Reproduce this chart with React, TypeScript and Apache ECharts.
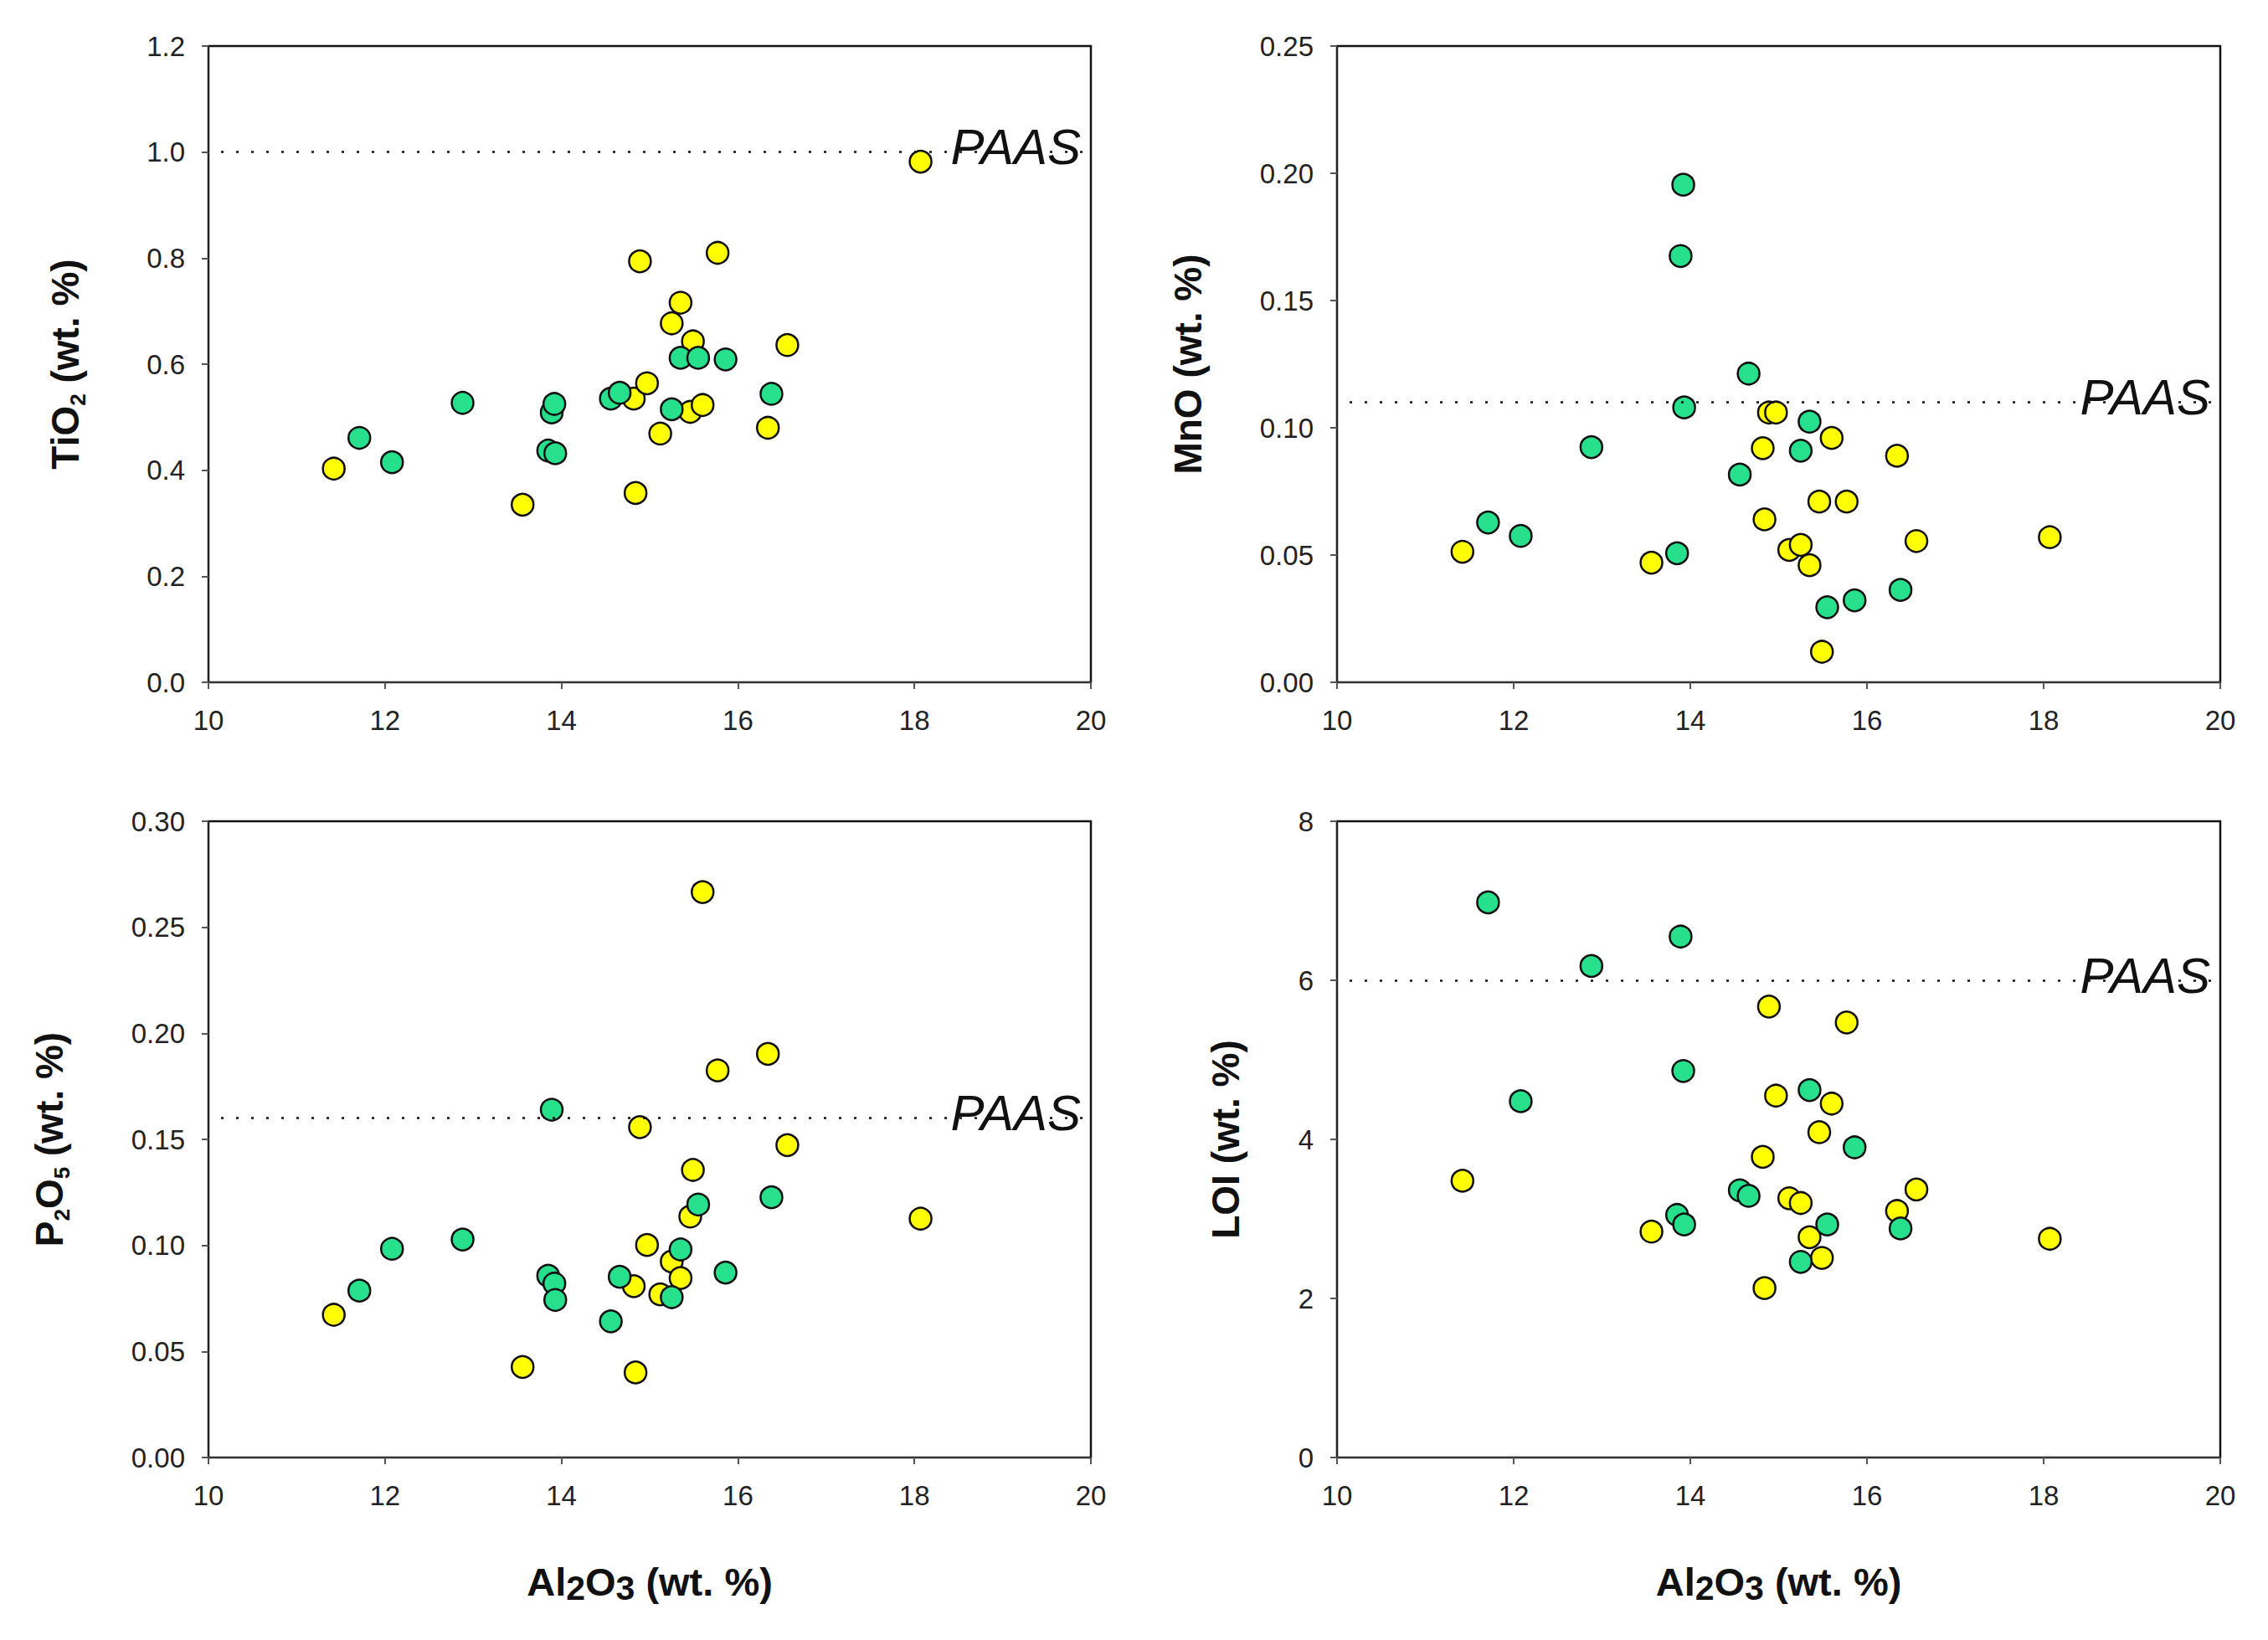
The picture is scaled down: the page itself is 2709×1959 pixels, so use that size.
import React, { useEffect, useRef } from "react";
import * as echarts from "echarts";

// Al2O3 (wt. %) for the two sample groups
const alGreen = [11.71, 12.08, 12.88, 13.85, 13.89, 13.92, 13.93, 14.56, 14.66, 15.25, 15.35, 15.55, 15.86, 16.38];
const alYellow = [11.42, 13.56, 14.82, 14.84, 14.89, 14.97, 15.12, 15.25, 15.35, 15.46, 15.49, 15.6, 15.77, 16.34, 16.56, 18.07];

// TiO2
const tio2Green = [0.461, 0.415, 0.527, 0.437, 0.509, 0.525, 0.432, 0.535, 0.546, 0.515, 0.612, 0.612, 0.609, 0.544];
const tio2Yellow = [0.403, 0.335, 0.535, 0.357, 0.794, 0.564, 0.469, 0.677, 0.716, 0.51, 0.643, 0.523, 0.81, 0.48, 0.636, 0.982];

// MnO
const mnoGreen = [0.0628, 0.0575, 0.0924, 0.0507, 0.1675, 0.1955, 0.108, 0.0816, 0.1213, 0.091, 0.1024, 0.0295, 0.0322, 0.0363];
const mnoYellow = [0.0513, 0.047, 0.092, 0.064, 0.106, 0.106, 0.052, 0.054, 0.046, 0.071, 0.012, 0.096, 0.071, 0.089, 0.0555, 0.057];

// P2O5
const p2o5Green = [0.0787, 0.0984, 0.1028, 0.0857, 0.164, 0.082, 0.0743, 0.0642, 0.0852, 0.0756, 0.0981, 0.1193, 0.0872, 0.1227];
const p2o5Yellow = [0.0673, 0.0427, 0.0808, 0.0401, 0.1558, 0.1002, 0.0769, 0.0924, 0.0846, 0.1136, 0.1356, 0.2666, 0.1825, 0.1903, 0.1473, 0.1126];

// LOI
const loiGreen = [6.98, 4.48, 6.18, 3.05, 6.55, 4.86, 2.93, 3.36, 3.29, 2.46, 4.62, 2.93, 3.9, 2.88];
const loiYellow = [3.48, 2.84, 3.78, 2.13, 5.67, 4.55, 3.26, 3.2, 2.77, 4.09, 2.51, 4.45, 5.47, 3.1, 3.37, 2.75];

// PAAS reference values
const paasValues = [1.0, 0.11, 0.16, 6];

// axis ranges / ticks
const xRange = { min: 10, max: 20, interval: 2 };
const yRanges = [
  { min: 0, max: 1.2, interval: 0.2, decimals: 1 },
  { min: 0, max: 0.25, interval: 0.05, decimals: 2 },
  { min: 0, max: 0.3, interval: 0.05, decimals: 2 },
  { min: 0, max: 8, interval: 2, decimals: 0 },
];

const yTitles = [
  "{m|TiO}{s|2}{m| (wt. %)}",
  "{m|MnO (wt. %)}",
  "{m|P}{s|2}{m|O}{s|5}{m| (wt. %)}",
  "{m|LOI (wt. %)}",
];
const xTitle = "{m|Al}{b|2}{m|O}{b|3}{m| (wt. %)}";

const greenSets = [tio2Green, mnoGreen, p2o5Green, loiGreen];
const yellowSets = [tio2Yellow, mnoYellow, p2o5Yellow, loiYellow];

const GREEN = "#27e08c";
const YELLOW = "#ffff00";
const FONT = "Liberation Sans, Arial, sans-serif";

const layout = [
  { left: 249, top: 55, width: 1054, height: 760, nameGap: 143, showX: false },
  { left: 1597, top: 55, width: 1055, height: 760, nameGap: 150, showX: false },
  { left: 249, top: 981, width: 1054, height: 760, nameGap: 162, showX: true },
  { left: 1597, top: 981, width: 1055, height: 760, nameGap: 105, showX: true },
];

export default function App() {
  const ref = useRef<HTMLDivElement>(null);

  useEffect(() => {
    if (!ref.current) return;
    const chart = echarts.init(ref.current, undefined, { renderer: "svg" });

    const grids = layout.map((l) => ({
      left: l.left,
      top: l.top,
      width: l.width,
      height: l.height,
      show: true,
      borderColor: "#111",
      borderWidth: 2.5,
      backgroundColor: "transparent",
    }));

    const xAxes = layout.map((l, i) => ({
      type: "value",
      gridIndex: i,
      min: xRange.min,
      max: xRange.max,
      interval: xRange.interval,
      axisLine: { show: true, onZero: false, lineStyle: { color: "#333", width: 2 } },
      axisTick: { show: true, inside: false, length: 8, lineStyle: { color: "#555", width: 2 } },
      axisLabel: { fontFamily: FONT, fontSize: 33, color: "#222", margin: 29 },
      splitLine: { show: false },
      name: l.showX ? xTitle : "",
      nameLocation: "middle",
      nameGap: 120,
      nameTextStyle: {
        fontFamily: FONT,
        fontWeight: "bold",
        fontSize: 47,
        color: "#111",
        rich: {
          m: { fontFamily: FONT, fontWeight: "bold", fontSize: 47, lineHeight: 56, color: "#111" },
          b: { fontFamily: FONT, fontWeight: "bold", fontSize: 41, lineHeight: 32, verticalAlign: "bottom", color: "#111" },
        },
      },
    }));

    const yAxes = layout.map((l, i) => ({
      type: "value",
      gridIndex: i,
      min: yRanges[i].min,
      max: yRanges[i].max,
      interval: yRanges[i].interval,
      axisLine: { show: true, onZero: false, lineStyle: { color: "#222", width: 2 } },
      axisTick: { show: true, inside: false, length: 8, lineStyle: { color: "#555", width: 2 } },
      axisLabel: {
        fontFamily: FONT,
        fontSize: 33,
        color: "#222",
        margin: 28,
        formatter: (v: number) => v.toFixed(yRanges[i].decimals),
      },
      splitLine: { show: false },
      name: yTitles[i],
      nameLocation: "middle",
      nameGap: l.nameGap,
      nameTextStyle: {
        fontFamily: FONT,
        fontWeight: "bold",
        fontSize: 46,
        color: "#111",
        rich: {
          m: { fontFamily: FONT, fontWeight: "bold", fontSize: 46, lineHeight: 56, color: "#111" },
          s: { fontFamily: FONT, fontWeight: "bold", fontSize: 26, lineHeight: 32, verticalAlign: "bottom", color: "#111" },
        },
      },
    }));

    const series: any[] = [];
    layout.forEach((_, i) => {
      series.push({
        type: "scatter",
        name: "yellow" + i,
        xAxisIndex: i,
        yAxisIndex: i,
        symbol: "circle",
        symbolSize: 26,
        itemStyle: { color: YELLOW, borderColor: "#111", borderWidth: 2.5, opacity: 1 },
        data: alYellow.map((x, j) => [x, yellowSets[i][j]]),
        z: 3,
        markLine: {
          silent: true,
          symbol: ["none", "none"],
          animation: false,
          data: [{ yAxis: paasValues[i] }],
          lineStyle: { type: [3, 15], dashOffset: 3, color: "#111", width: 2.5 },
          label: {
            show: true,
            position: "insideEndTop",
            formatter: "PAAS",
            fontFamily: FONT,
            fontStyle: "italic",
            fontSize: 60,
            lineHeight: 60,
            color: "#111",
            distance: [12, -24],
          },
          emphasis: { disabled: true },
        },
      });
      series.push({
        type: "scatter",
        name: "green" + i,
        xAxisIndex: i,
        yAxisIndex: i,
        symbol: "circle",
        symbolSize: 26,
        itemStyle: { color: GREEN, borderColor: "#111", borderWidth: 2.5, opacity: 1 },
        data: alGreen.map((x, j) => [x, greenSets[i][j]]),
        z: 3,
      });
    });

    chart.setOption({
      animation: false,
      backgroundColor: "#fff",
      grid: grids,
      xAxis: xAxes,
      yAxis: yAxes,
      series,
    });

    return () => chart.dispose();
  }, []);

  return (
    <div
      ref={ref}
      style={{ position: "absolute", left: 0, top: 0, width: 2709, height: 1959, background: "#fff" }}
    />
  );
}
